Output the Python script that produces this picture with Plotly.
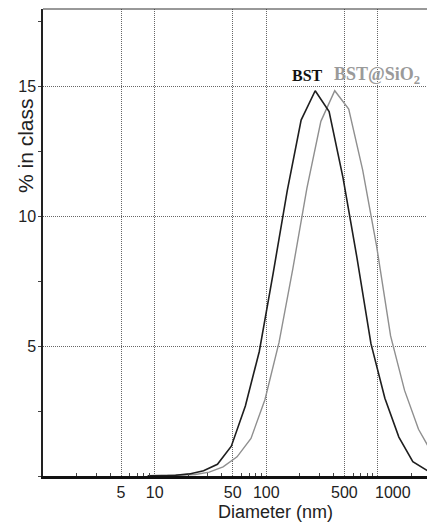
import plotly.graph_objects as go

# --- data ---
bst_diam = [8.65, 11.5, 15.4, 20.5, 27.4, 36.5, 48.6, 64.9, 86.5, 115, 154, 205, 274,
            365, 486, 649, 865, 1153, 1538, 2051, 2735, 3648]
bst_pct = [0.01, 0.02, 0.03, 0.08, 0.2, 0.45, 1.15, 2.7, 4.8, 7.8, 11.0, 13.72, 14.85,
           14.05, 11.5, 8.4, 5.1, 3.0, 1.5, 0.55, 0.22, 0.08]

sio2_diam = [13.0, 17.3, 23.1, 30.8, 41.0, 54.7, 72.9, 97.3, 130, 173, 231, 308, 410,
             547, 729, 973, 1297, 1730, 2307, 3076, 4102]
sio2_pct = [0.02, 0.03, 0.06, 0.15, 0.35, 0.74, 1.45, 2.95, 5.15, 8.0, 11.1, 13.67, 14.85,
            14.14, 11.8, 8.85, 5.4, 3.3, 1.8, 0.85, 0.35]

x_ticks = [5, 10, 50, 100, 500, 1000]
x_ticktext = ["5", "10", "50", "100", "500", ""]   # "1000" placed separately (offset in the reference)
y_ticks = [5, 10, 15]
x_minor = [2, 3, 4, 6, 7, 8, 9, 20, 30, 40, 60, 70, 80, 90, 200, 300, 400, 600, 700, 800, 900, 2000]

fig = go.Figure()
fig.add_trace(go.Scatter(x=sio2_diam, y=sio2_pct, mode="lines",
                         line=dict(color="#8f8f8f", width=1.4), showlegend=False))
fig.add_trace(go.Scatter(x=bst_diam, y=bst_pct, mode="lines",
                         line=dict(color="#1e1e1e", width=1.6), showlegend=False))

fig.update_layout(
    width=427, height=523,
    margin=dict(l=43, r=0, t=9, b=47),
    paper_bgcolor="white", plot_bgcolor="white",
    font=dict(family="Liberation Sans, Arial, sans-serif", color="#222", size=16),
)
fig.update_xaxes(
    type="log", range=[0, 3.439],
    tickvals=x_ticks, ticktext=x_ticktext,
    tickfont=dict(size=16), ticks="",
    showgrid=True, gridcolor="#666", griddash="1px,1px", gridwidth=1,
    showline=True, linecolor="#111", linewidth=2.5,
    zeroline=False,
    minor=dict(tickvals=x_minor, ticks="inside", ticklen=3, tickcolor="#444", showgrid=False),
)
fig.update_yaxes(
    range=[0, 18],
    tickvals=y_ticks, ticktext=[str(v) for v in y_ticks],
    tickfont=dict(size=16), ticks="", ticklabelstandoff=2,
    showgrid=True, gridcolor="#666", griddash="1px,1px", gridwidth=1,
    showline=True, linecolor="#222", linewidth=1.5,
    zeroline=False,
    minor=dict(dtick=2.5, ticks="outside", ticklen=3, tickcolor="#444", showgrid=False),
)
fig.add_shape(type="line", xref="paper", yref="paper", x0=0, x1=1, y0=1, y1=1,
              line=dict(color="#333", width=1))

# "1000" tick label, drawn to the right of its tick as in the reference
fig.add_annotation(x=3, y=-(492 - 476) / 467, xref="x", yref="paper", text="1000",
                   showarrow=False, xanchor="left", yanchor="middle", xshift=-5,
                   font=dict(size=16, color="#222"))

# axis titles (positioned as in the reference)
fig.add_annotation(x=(275 - 43) / 384, y=-(512 - 476) / 467, xref="paper", yref="paper",
                   text="Diameter (nm)", showarrow=False, xanchor="center", yanchor="middle",
                   font=dict(size=18, color="#222"))
fig.add_annotation(x=-(43 - 25) / 384, y=(476 - 146) / 467, xref="paper", yref="paper",
                   text="% in class", textangle=-90, showarrow=False,
                   xanchor="center", yanchor="middle", font=dict(size=21, color="#222"))

fig.add_annotation(x=2.37, y=15.45, xref="x", yref="y", text="<b>BST</b>",
                   showarrow=False, xanchor="center", yanchor="middle",
                   font=dict(family="Liberation Serif, Times New Roman, serif", size=16, color="#111"))
fig.add_annotation(x=2.587, y=15.45, xref="x", yref="y", text="<b>BST@SiO<sub>2</sub></b>",
                   showarrow=False, xanchor="left", yanchor="middle",
                   font=dict(family="Liberation Serif, Times New Roman, serif", size=18, color="#9a9a9a"))

fig.write_html("out.html", config={"displayModeBar": False},
               post_script="document.body.style.margin='0';document.body.style.overflow='hidden';")
